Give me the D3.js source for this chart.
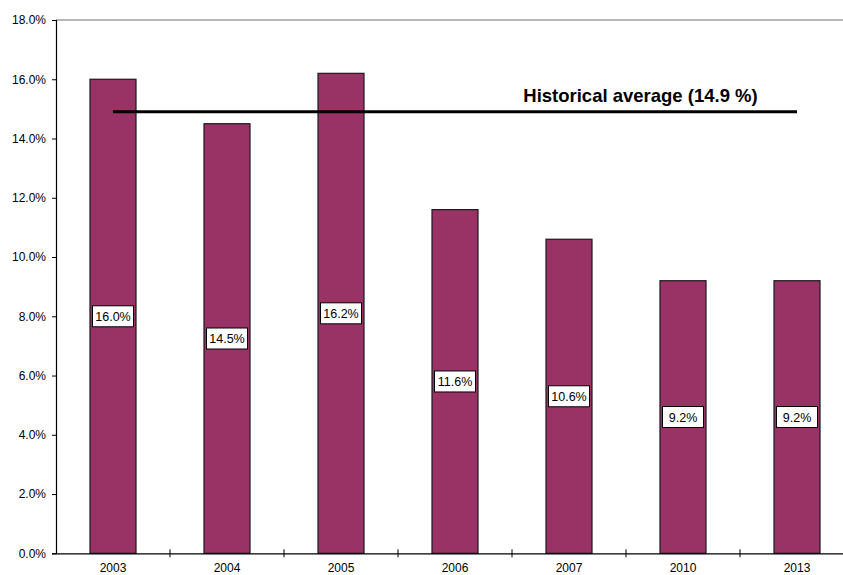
<!DOCTYPE html>
<html><head><meta charset="utf-8">
<script src="https://cdn.jsdelivr.net/npm/d3@7"></script>
<style>body{margin:0;background:#fff;}svg{display:block;font-family:Arial,"Liberation Sans",sans-serif;}</style>
</head><body>
<svg id="chart" width="843" height="575"></svg>
<script>
const categories = ["2003","2004","2005","2006","2007","2010","2013"];
const values = [16.0,14.5,16.2,11.6,10.6,9.2,9.2];
const yTicks = [0,2,4,6,8,10,12,14,16,18];
const averageValue = 14.9;
const averageLabel = "Historical average (14.9 %)";

(function(){
const svg = d3.select("#chart");
const mLeft = 56, mRight = 854, mTop = 20, mBottom = 553.3;
const x = d3.scaleBand().domain(categories).range([mLeft, mRight]).paddingInner(0).paddingOuter(0);
const y = d3.scaleLinear().domain([0,18]).range([mBottom, mTop]);
const barW = 46;

// top border
svg.append("line").attr("x1", mLeft).attr("x2", mRight).attr("y1", y(18)).attr("y2", y(18))
  .attr("stroke", "#a0a0a0").attr("stroke-width", 1.5);

// bars
svg.selectAll("rect.bar").data(values).enter().append("rect")
  .attr("class","bar")
  .attr("x", (d,i) => x(categories[i]) + x.bandwidth()/2 - barW/2)
  .attr("width", barW)
  .attr("y", d => y(d))
  .attr("height", d => y(0) - y(d))
  .attr("fill", "#993366").attr("stroke", "#1a1a1a").attr("stroke-width", 1.2);

// y axis
const yAxis = d3.axisLeft(y).tickValues(yTicks).tickFormat(d => d.toFixed(1) + "%").tickSize(4).tickPadding(6);
const gy = svg.append("g").attr("transform", `translate(${mLeft},0)`).call(yAxis);
gy.select(".domain").attr("stroke", "#000").attr("stroke-width", 1.2);
gy.selectAll(".tick line").attr("stroke", "#000");
gy.selectAll(".tick text").attr("font-size", 12).attr("fill", "#000").attr("font-family", "Arial, 'Liberation Sans', sans-serif");

// x axis
const gx = svg.append("g").attr("transform", `translate(0,${mBottom})`)
  .call(d3.axisBottom(x).tickSize(0).tickPadding(10));
gx.select(".domain").attr("stroke", "#000").attr("stroke-width", 1.2);
gx.selectAll(".tick text").attr("font-size", 12).attr("fill", "#000").attr("font-family", "Arial, 'Liberation Sans', sans-serif");
// category boundary tick marks
const bounds = categories.slice(1).map(c => x(c));
svg.selectAll("line.xtick").data(bounds).enter().append("line")
  .attr("x1", d => d).attr("x2", d => d).attr("y1", mBottom - 4).attr("y2", mBottom + 4)
  .attr("stroke", "#000").attr("stroke-width", 1);

// data labels
const lbl = svg.selectAll("g.lbl").data(values).enter().append("g")
  .attr("transform", (d,i) => `translate(${x(categories[i]) + x.bandwidth()/2},${(y(d)+y(0))/2})`);
lbl.append("rect").attr("x", -20.5).attr("y", -10.5).attr("width", 41).attr("height", 21)
  .attr("fill", "#fff").attr("stroke", "#000").attr("stroke-width", 1);
lbl.append("text").attr("text-anchor", "middle").attr("dy", "0.36em").attr("font-size", 12.5)
  .text(d => d.toFixed(1) + "%");

// average line
const x0 = x(categories[0]) + x.bandwidth()/2;
const x1 = x(categories[categories.length-1]) + x.bandwidth()/2;
svg.append("line").attr("x1", x0).attr("x2", x1).attr("y1", y(averageValue)).attr("y2", y(averageValue))
  .attr("stroke", "#000").attr("stroke-width", 3);
svg.append("text").attr("x", 640.5).attr("y", y(averageValue) - 10).attr("text-anchor", "middle")
  .attr("font-size", 18.5).attr("font-weight", "bold").text(averageLabel);
})();
</script>
</body></html>
